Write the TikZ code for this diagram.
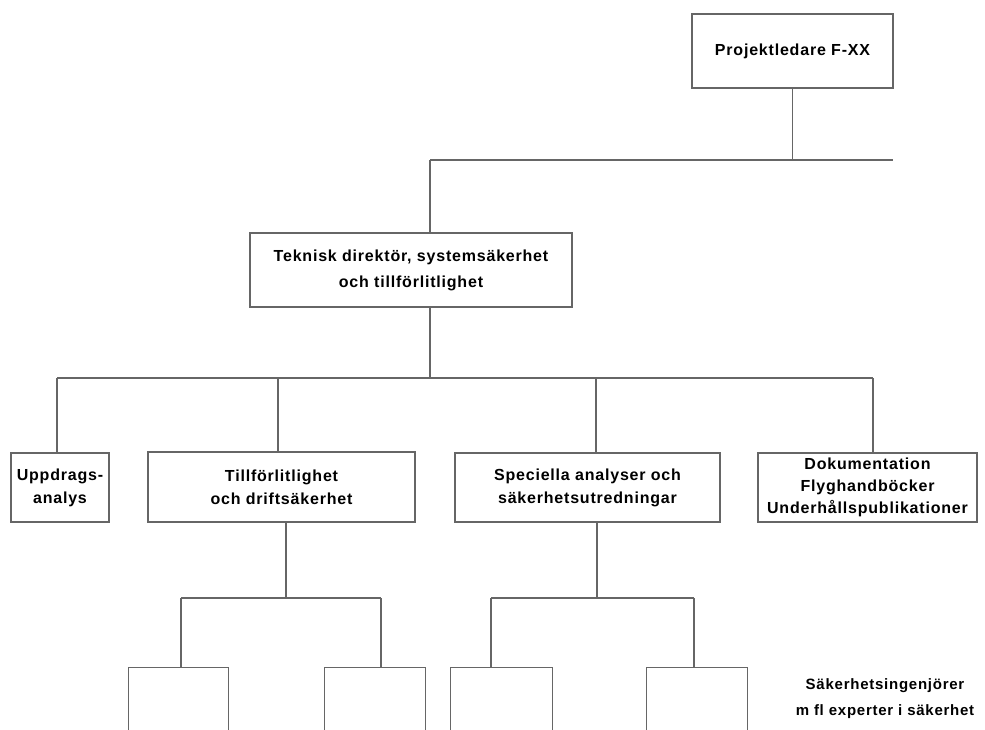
\documentclass[tikz,border=0pt]{standalone}
\usepackage{fontspec}
\setmainfont{Liberation Sans}[LetterSpace=5]
\begin{document}
\begin{tikzpicture}[x=1pt,y=-1pt,
  line/.style={draw=black!60, line width=1.2pt},
  box/.style={draw=black!60, line width=1.2pt, align=center, inner sep=0pt,
    font=\fontsize{16}{23}\selectfont\bfseries},
  ghost/.style={inner sep=0pt, minimum width=100pt, minimum height=62pt}]
\useasboundingbox (0,0) rectangle (985,730);
% boxes
\node[box, minimum width=201pt, minimum height=74pt] (top) at (792.5,51) {Projektledare F-XX};
\node[box, minimum width=322pt, minimum height=74pt,
  font=\fontsize{16}{26}\selectfont\bfseries] (tek) at (411,270)
  {Teknisk direktör, systemsäkerhet\\och tillförlitlighet};
\node[box, minimum width=98pt, minimum height=69pt] (upp) at (60,487.5) {Uppdrags-\\analys};
\node[box, minimum width=267pt, minimum height=70pt] (tillf) at (281.5,487) {Tillförlitlighet\\och driftsäkerhet};
\node[box, minimum width=265pt, minimum height=69pt] (spec) at (587.5,487.5) {Speciella analyser och\\säkerhetsutredningar};
\node[box, minimum width=219pt, minimum height=69pt,
  font=\fontsize{16}{22}\selectfont\bfseries] (dok) at (867.5,487.5)
  {Dokumentation\\Flyghandböcker\\Underhållspublikationer};
% bottom open boxes
\node[ghost, minimum width=99pt] (s1) at (178.5,699) {};
\node[ghost] (s2) at (375,699) {};
\node[ghost, minimum width=101pt] (s3) at (501.5,699) {};
\node[ghost] (s4) at (697,699) {};
\foreach \s in {s1,s2,s3,s4}
  \draw[line] (\s.south west) |- (\s.north east) -- (\s.south east);
\node[align=center, inner sep=0pt, font=\fontsize{15}{26}\selectfont\bfseries] (lbl) at (885,699)
  {Säkerhetsingenjörer\\m fl experter i säkerhet};
% level 1 connectors
\coordinate (b1l) at (430,160);
\coordinate (b1r) at (893,160);
\draw[line] (top.south) -- (top.south |- b1r);
\draw[line] (b1l) -- (b1r);
\draw[line] (b1l) -- (b1l |- tek.north);
% level 2 connectors
\coordinate (b2l) at (57,378);
\coordinate (b2r) at (873,378);
\coordinate (v2) at (278,378);
\coordinate (v3) at (596,378);
\draw[line] (tek.south -| b1l) -- (b2l -| b1l);
\draw[line] (b2l) -- (b2r);
\draw[line] (b2l) -- (b2l |- upp.north);
\draw[line] (v2) -- (v2 |- tillf.north);
\draw[line] (v3) -- (v3 |- spec.north);
\draw[line] (b2r) -- (b2r |- dok.north);
% level 3 connectors
\coordinate (t3) at (286,598);
\coordinate (b3l) at (181,598);
\coordinate (b3r) at (381,598);
\draw[line] (t3 |- tillf.south) -- (t3);
\draw[line] (b3l) -- (b3r);
\draw[line] (b3l) -- (b3l |- s1.north);
\draw[line] (b3r) -- (b3r |- s2.north);
\coordinate (u3) at (597,598);
\coordinate (b4l) at (491,598);
\coordinate (b4r) at (694,598);
\draw[line] (u3 |- spec.south) -- (u3);
\draw[line] (b4l) -- (b4r);
\draw[line] (b4l) -- (b4l |- s3.north);
\draw[line] (b4r) -- (b4r |- s4.north);
\end{tikzpicture}
\end{document}
